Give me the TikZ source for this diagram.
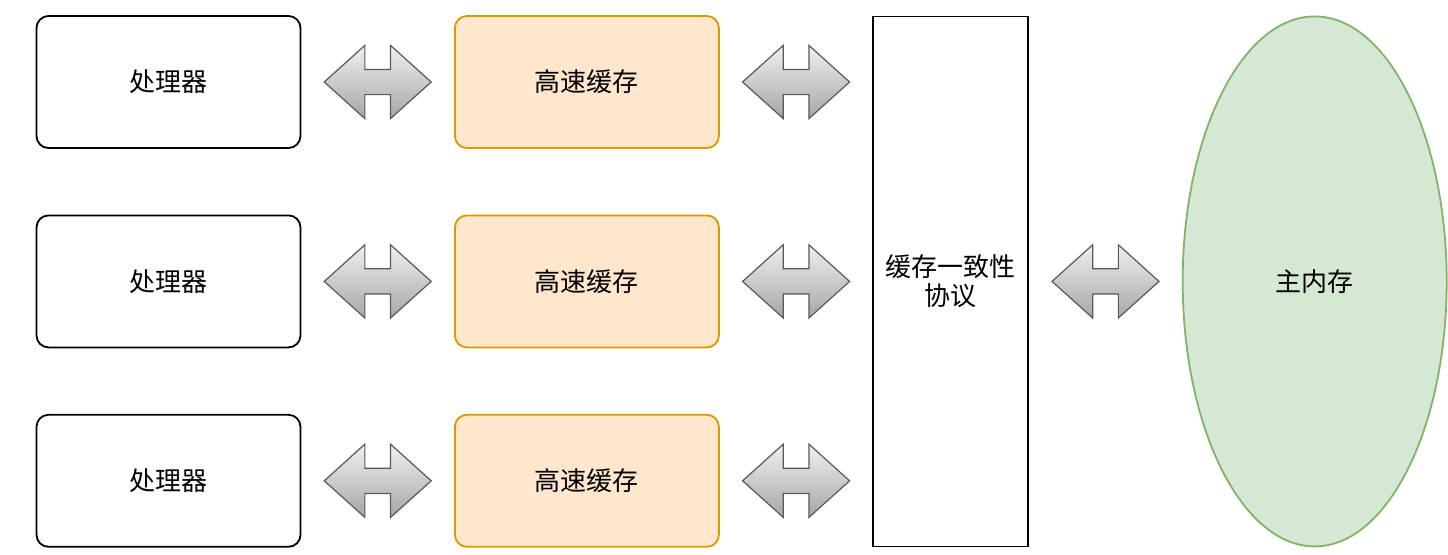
\documentclass[tikz,border=0pt]{standalone}
\usepackage{fontspec}
\setmainfont{Noto Sans CJK SC}
\usetikzlibrary{shapes.geometric, shapes.arrows, positioning, calc}

\definecolor{cachefill}{HTML}{FFE6CC}
\definecolor{cacheline}{HTML}{D79B00}
\definecolor{memfill}{HTML}{D5E8D4}
\definecolor{memline}{HTML}{82B366}

\begin{document}
\begin{tikzpicture}[
    node distance=32.8pt and 76.3pt,
    box/.style={rectangle, rounded corners=6pt, draw, line width=0.9pt, minimum width=132pt, minimum height=66pt, align=center, font=\fontsize{13}{14.5}\selectfont},
    cpu/.style={box, fill=white},
    cache/.style={box, draw=cacheline, fill=cachefill},
    proto/.style={box, rounded corners=0pt, minimum width=77.5pt, minimum height=265pt},
    mem/.style={ellipse, draw=memline, fill=memfill, line width=0.9pt, minimum width=132pt, minimum height=265pt, font=\fontsize{13}{14.5}\selectfont},
    dblarrow/.style={double arrow, draw=black!65, line width=0.6pt, top color=black!6, bottom color=black!35, inner sep=6pt, double arrow head extend=12pt, double arrow tip angle=84, minimum width=36pt, minimum height=53.5pt}
]
\useasboundingbox (0,0) rectangle (724pt,-277pt);

\node[cpu] (cpu1) at (84.25pt,-41pt) {处理器};
\node[cpu, below=of cpu1] (cpu2) {处理器};
\node[cpu, below=of cpu2] (cpu3) {处理器};
\node[cache, right=of cpu1] (cache1) {高速缓存};
\node[cache, right=of cpu2] (cache2) {高速缓存};
\node[cache, right=of cpu3] (cache3) {高速缓存};
\node[proto, right=of cache2] (mesi) {缓存一致性\\协议};
\node[mem, right=of mesi] (ram) {主内存};

% double arrows between the blocks
\node[dblarrow] (a1) at ($(cpu1.east)!0.5!(cache1.west)$) {};
\node[dblarrow] (a2) at ($(cpu2.east)!0.5!(cache2.west)$) {};
\node[dblarrow] (a3) at ($(cpu3.east)!0.5!(cache3.west)$) {};
\node[dblarrow] (b1) at ($(cache1.east)!0.5!(mesi.west |- cache1)$) {};
\node[dblarrow] (b2) at ($(cache2.east)!0.5!(mesi.west |- cache2)$) {};
\node[dblarrow] (b3) at ($(cache3.east)!0.5!(mesi.west |- cache3)$) {};
\node[dblarrow] (c1) at ($(mesi.east)!0.5!(ram.west)$) {};
\end{tikzpicture}
\end{document}
